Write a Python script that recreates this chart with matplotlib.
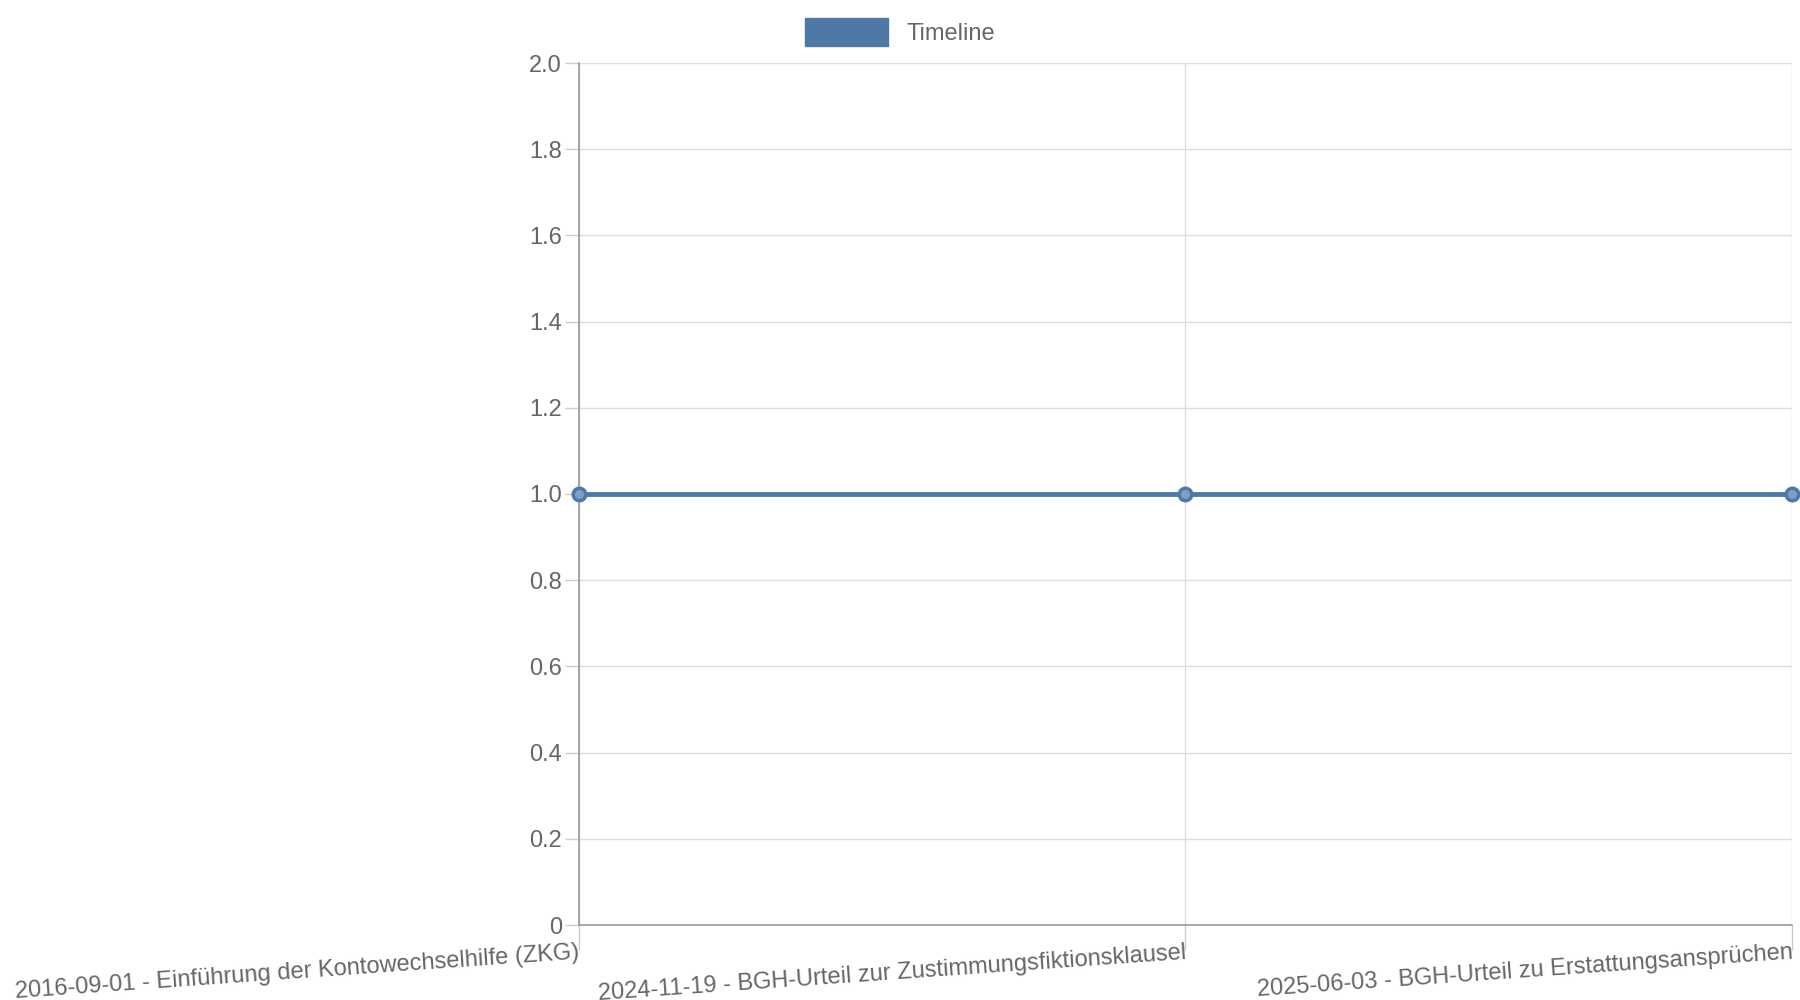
import matplotlib
matplotlib.use("Agg")
import matplotlib.pyplot as plt
from matplotlib.patches import Patch

labels = ["2016-09-01 - Einführung der Kontowechselhilfe (ZKG)",
          "2024-11-19 - BGH-Urteil zur Zustimmungsfiktionsklausel",
          "2025-06-03 - BGH-Urteil zu Erstattungsansprüchen"]
values = [1, 1, 1]

plt.rcParams['font.family'] = ['Liberation Sans', 'DejaVu Sans']
color = '#4e79a7'
tc = '#666666'
fig = plt.figure(figsize=(18, 10), dpi=100)
ax = fig.add_axes([0.3214, 0.075, 0.6741, 0.862])
x = list(range(len(labels)))
ax.plot(x, values, color=color, lw=3.5, marker='o', ms=9, mfc='#7f9fc4', mec=color, mew=2.5,
        zorder=3, clip_on=False)
ax.set_xlim(0, len(labels) - 1)
ax.set_ylim(0, 2)
ax.set_yticks([i / 5 for i in range(11)])
ax.set_yticklabels(["0"] + [f"{i/5:.1f}" for i in range(1, 11)])
ax.set_xticks(x)
ax.set_xticklabels(labels, rotation=4, ha='right', rotation_mode='anchor')
ax.tick_params(colors=tc, labelsize=17, width=1, color='#cccccc')
ax.tick_params(axis='y', length=10, pad=2)
ax.tick_params(axis='x', length=18, pad=-6)
for l in ax.get_xticklabels():
    l.set_color(tc)
for l in ax.get_yticklabels():
    l.set_color(tc)
ax.grid(True, color='#dddddd', lw=1)
for s in ['top', 'right']:
    ax.spines[s].set_visible(False)
for s in ['left', 'bottom']:
    ax.spines[s].set_color('#999999')
    ax.spines[s].set_linewidth(1.2)
fig.legend(handles=[Patch(color=color, label='Timeline')], loc='upper center',
           bbox_to_anchor=(0.5, 1.003), frameon=False, fontsize=17,
           handlelength=3.5, handleheight=1.4, labelcolor=tc)
fig.savefig("out.png")
